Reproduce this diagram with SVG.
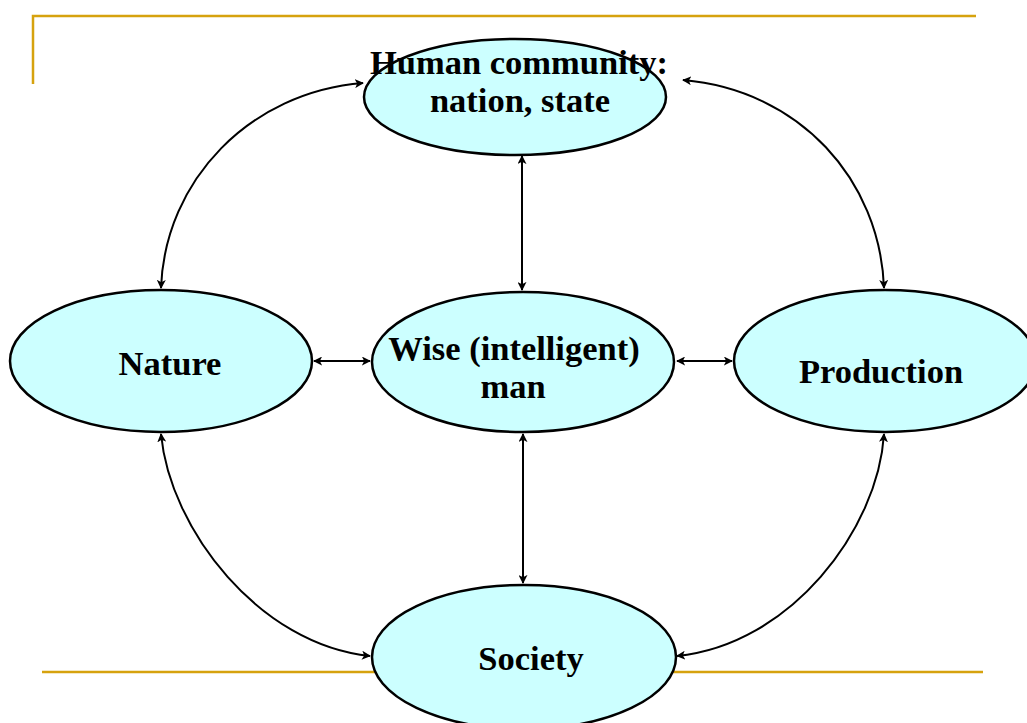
<svg xmlns="http://www.w3.org/2000/svg" width="1027" height="723" viewBox="0 0 1027 723">
  <style>
    .frame { stroke: #D6A20E; stroke-width: 2.5; fill: none; }
    .node { fill: #CCFFFF; stroke: #000; stroke-width: 2.5; }
    .label { font-family: "Liberation Serif", "Times New Roman", serif; font-weight: bold; font-size: 34.5px; fill: #000; text-anchor: middle; }
    .link { fill: none; stroke: #000; stroke-width: 2; marker-start: url(#tip); marker-end: url(#tip); }
  </style>
  <defs>
    <marker id="tip" viewBox="0 0 10 10" refX="9" refY="5" markerWidth="4.5" markerHeight="4.5" orient="auto-start-reverse" markerUnits="strokeWidth">
      <path d="M0,0 L10,5 L0,10 L2.5,5 z" fill="#000"/>
    </marker>
  </defs>

  <rect width="1027" height="723" fill="#fff"/>

  <!-- slide frame rules -->
  <g id="frame">
    <path class="frame" d="M33,84 V16 H976"/>
    <path class="frame" d="M42,672 H983"/>
  </g>

  <!-- connectors -->
  <g id="connectors">
    <path class="link" d="M522,156 V290"/>
    <path class="link" d="M523,434 V583"/>
    <path class="link" d="M314,361 H370"/>
    <path class="link" d="M677,361 H732"/>
    <path class="link" d="M363,83 C250,92 165,180 161,288"/>
    <path class="link" d="M683,80 C800,90 880,180 884,288"/>
    <path class="link" d="M161,434 C170,530 260,645 370,656"/>
    <path class="link" d="M884,434 C878,530 790,645 677,656"/>
  </g>

  <g id="community">
    <ellipse class="node" cx="515" cy="97" rx="151" ry="58"/>
    <text class="label" x="519" y="74">Human community:</text>
    <text class="label" x="520" y="112">nation, state</text>
  </g>

  <g id="nature">
    <ellipse class="node" cx="161" cy="361" rx="151" ry="71"/>
    <text class="label" x="170" y="375">Nature</text>
  </g>

  <g id="wise-man">
    <ellipse class="node" cx="523" cy="362" rx="151" ry="70"/>
    <text class="label" x="514" y="360">Wise (intelligent)</text>
    <text class="label" x="513" y="398">man</text>
  </g>

  <g id="production">
    <ellipse class="node" cx="885" cy="361" rx="151" ry="71"/>
    <text class="label" x="881" y="383">Production</text>
  </g>

  <g id="society">
    <ellipse class="node" cx="524" cy="657" rx="152" ry="72"/>
    <text class="label" x="531" y="670">Society</text>
  </g>
</svg>
